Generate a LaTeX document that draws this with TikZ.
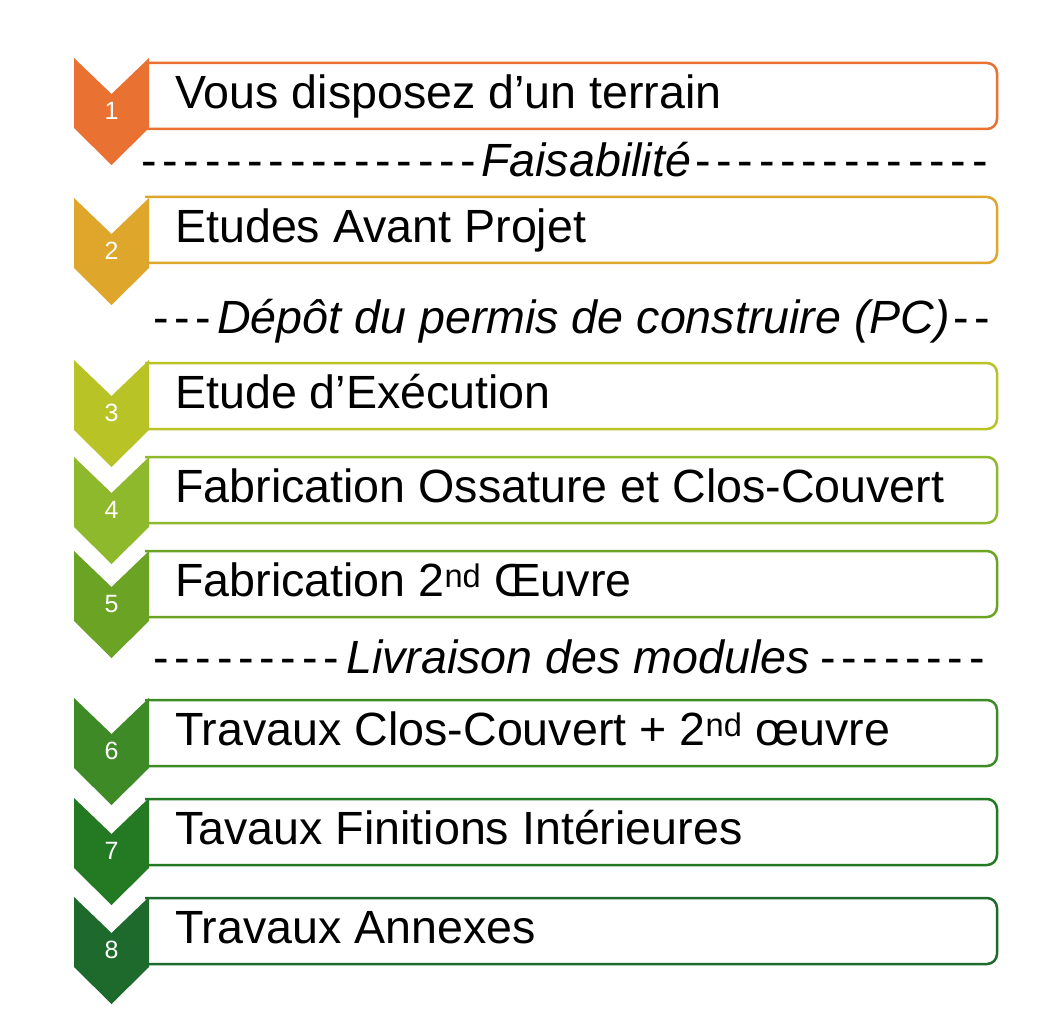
\documentclass[tikz,border=0pt]{standalone}
\usepackage{fontspec}
\setmainfont{Liberation Sans}
\definecolor{c1}{RGB}{233,113,50}
\definecolor{c2}{RGB}{222,166,42}
\definecolor{c3}{RGB}{184,196,38}
\definecolor{c4}{RGB}{143,185,45}
\definecolor{c5}{RGB}{107,163,36}
\definecolor{c6}{RGB}{62,138,38}
\definecolor{c7}{RGB}{36,122,34}
\definecolor{c8}{RGB}{29,106,44}
\newcommand\hy{\makebox[21.3pt][l]{-}}
\newcommand\numfont{\fontsize{25}{25}\selectfont}
\newcommand\bigfont{\fontsize{46.6}{47}\selectfont}
\tikzset{
  boxline/.style={line width=2.5pt, fill=white, rounded corners=10pt},
  chev/.style={fill=#1, draw=none},
  numlbl/.style={text=white, inner sep=0pt, anchor=center, font=\numfont},
  steplbl/.style={anchor=base west, inner sep=0pt, font=\bigfont},
  milelbl/.style={anchor=base west, inner sep=0pt, font=\bigfont\itshape},
  dashlbl/.style={anchor=base west, inner sep=0pt, font=\bigfont},
}
\begin{document}
\begin{tikzpicture}[x=1pt,y=-1pt]
\useasboundingbox[fill=white] (0,0) rectangle (1039,1011);
% steps: number/colour/box top/chevron top/text
\foreach \n/\c/\bt/\T/\txt in {
  1/c1/63/58/{Vous disposez d’un terrain},
  2/c2/197/198/{Etudes Avant Projet},
  3/c3/363/360/{Etude d’Exécution},
  4/c4/457/457/{Fabrication Ossature et Clos-Couvert},
  5/c5/551/551/{Fabrication 2\textsuperscript{nd} Œuvre},
  6/c6/700/698/{Travaux Clos-Couvert + 2\textsuperscript{nd} œuvre},
  7/c7/799/798/{Tavaux Finitions Intérieures},
  8/c8/898/897/{Travaux Annexes}}{
  \draw[boxline, draw=\c] (145,\bt) -- (997,\bt) -- (997,{\bt+66}) -- (145,{\bt+66});
  \fill[chev=\c] (74,\T) -- (111.5,{\T+36}) -- (149,\T) -- (149,{\T+70})
     -- (111.5,{\T+107}) -- (74,{\T+70}) -- cycle;
  \node[numlbl] (n\n) at (111.5,{\T+53}) {\numfont\n};
  \node[steplbl] (t\n) at (175,{\bt+45.5}) {\txt};
}
% milestones
\node[dashlbl] (d1a) at (141,176.5) {\hy\hy\hy\hy\hy\hy\hy\hy\hy\hy\hy\hy\hy\hy\hy\hy};
\node[milelbl] (m1) at (481,176.5) {Faisabilité};
\node[dashlbl] (d1b) at (695,176.5) {\hy\hy\hy\hy\hy\hy\hy\hy\hy\hy\hy\hy\hy\hy};
\node[dashlbl] (d2a) at (153,333) {\hy\hy\hy};
\node[milelbl] (m2) at (217,333) {Dépôt du permis de construire (PC)};
\node[dashlbl] (d2b) at (953,333) {\hy\hy};
\node[dashlbl] (d3a) at (153,673) {\hy\hy\hy\hy\hy\hy\hy\hy\hy};
\node[milelbl] (m3) at (346,673) {Livraison des modules};
\node[dashlbl] (d3b) at (820,673) {\hy\hy\hy\hy\hy\hy\hy\hy};
\end{tikzpicture}
\end{document}
